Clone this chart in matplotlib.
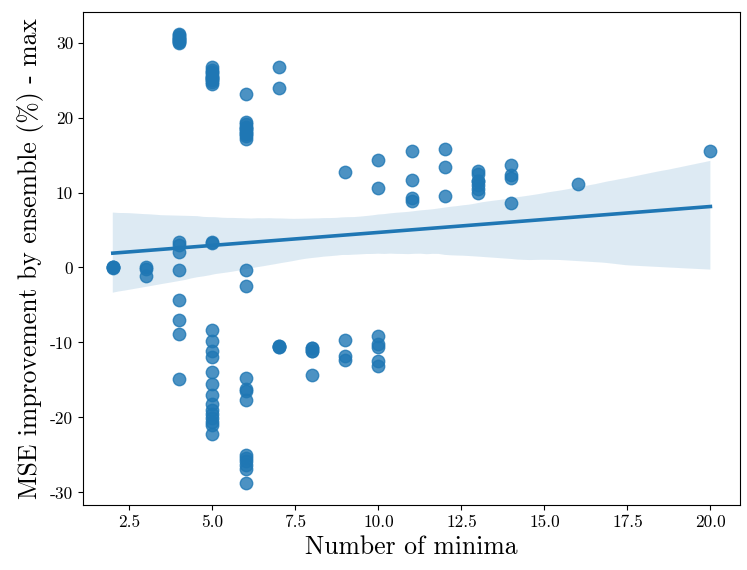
import numpy as np
import matplotlib
matplotlib.use("Agg")
import matplotlib.pyplot as plt
import seaborn as sns

plt.rcParams['font.family'] = 'serif'
plt.rcParams['font.serif'] = ['cmr10', 'DejaVu Serif']
plt.rcParams['mathtext.fontset'] = 'cm'
plt.rcParams['axes.unicode_minus'] = False
plt.rcParams['axes.formatter.use_mathtext'] = False

# MSE improvement (%) per run, grouped by number of minima
# (several runs overlap exactly in the picture, so some values repeat)
minima_2 = [0.1, -0.1, 0.0, 0.0]
minima_3 = [0.0, -0.2, -1.2]
minima_4 = [31.0, 30.5, 30.0, 31.1, 30.8, 30.6, 30.3, 30.2, 30.1,
            3.4, 3.0, 2.0, -0.4, -4.4, -7.0, -8.9, -14.9]
minima_5 = [26.7, 26.1, 25.6, 25.0, 24.5, 26.4, 25.9, 25.4, 25.2, 24.8, 25.3,
            3.4, 3.3, -8.4, -9.8, -11.2, -12.0, -14.0, -15.6, -17.0, -18.2,
            -19.0, -19.6, -20.1, -20.6, -21.0, -22.2]
minima_6 = [23.1, 19.4, 18.8, 18.0, 17.2, 19.2, 18.5, 18.2, 17.8, 17.5, 18.6,
            -0.3, -2.5, -14.7, -16.2, -16.5, -17.7, -25.0, -25.4, -25.8,
            -26.3, -26.9, -28.7]
minima_7 = [26.8, 24.0, -10.5, -10.6, -10.5, -10.6]
minima_8 = [-10.8, -11.2, -10.8, -11.2, -14.3]
minima_9 = [12.7, -9.7, -11.8, -12.3]
minima_10 = [14.3, 10.6, -9.1, -10.2, -10.6, -12.5, -13.1]
minima_11 = [15.6, 11.7, 9.3, 8.9]
minima_12 = [15.8, 13.4, 9.6]
minima_13 = [12.9, 12.5, 11.5, 11.5, 11.0, 10.5, 10.0]
minima_14 = [13.7, 12.3, 12.0, 8.6]
minima_16 = [11.2]
minima_20 = [15.5]

groups = {2: minima_2, 3: minima_3, 4: minima_4, 5: minima_5, 6: minima_6,
          7: minima_7, 8: minima_8, 9: minima_9, 10: minima_10, 11: minima_11,
          12: minima_12, 13: minima_13, 14: minima_14, 16: minima_16, 20: minima_20}

x = np.concatenate([[k] * len(v) for k, v in groups.items()]).astype(float)
y = np.concatenate([v for v in groups.values()])

fig, ax = plt.subplots(figsize=(7.47, 5.70), dpi=100)
sns.regplot(x=x, y=y, ax=ax, seed=0,
            scatter_kws={'s': 80}, line_kws={'lw': 2.6})

ax.set_xlabel('Number of minima', fontsize=18.5)
ax.set_ylabel('MSE improvement by ensemble (%) - max', fontsize=18.5)
ax.tick_params(labelsize=12.5)
ax.set_yticks([-30, -20, -10, 0, 10, 20, 30])

fig.subplots_adjust(left=0.111, right=0.991, top=0.979, bottom=0.114)
fig.savefig('out.png', dpi=100)
